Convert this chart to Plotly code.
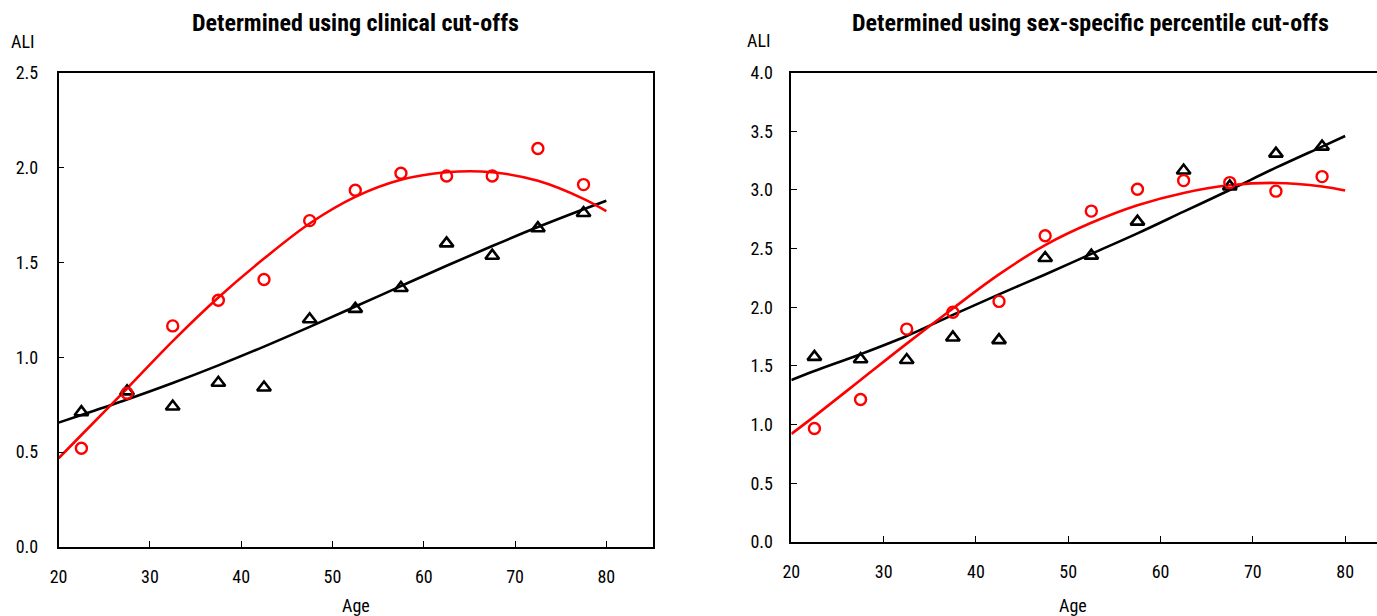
import plotly.graph_objects as go

# ---- data ----
ages = [22.5, 27.5, 32.5, 37.5, 42.5, 47.5, 52.5, 57.5, 62.5, 67.5, 72.5, 77.5]

clin_black = [0.71, 0.82, 0.74, 0.865, 0.84, 1.20, 1.255, 1.365, 1.60, 1.535, 1.68, 1.76]
clin_red = [0.52, 0.81, 1.165, 1.30, 1.41, 1.72, 1.88, 1.97, 1.955, 1.955, 2.10, 1.91]

pct_black = [1.577, 1.557, 1.55, 1.743, 1.72, 2.42, 2.44, 2.73, 3.166, 3.03, 3.31, 3.37]
pct_red = [0.966, 1.214, 1.814, 1.957, 2.05, 2.61, 2.82, 3.006, 3.08, 3.063, 2.99, 3.114]

trend_ages = [20, 22.5, 27.5, 32.5, 37.5, 42.5, 47.5, 52.5, 57.5, 62.5, 67.5, 72.5, 77.5, 80]
clin_black_trend = [0.655, 0.695, 0.777, 0.864, 0.957, 1.056, 1.16, 1.267, 1.375, 1.482, 1.586, 1.686, 1.78, 1.825]
clin_red_trend = [0.467, 0.59, 0.835, 1.085, 1.315, 1.52, 1.705, 1.845, 1.935, 1.975, 1.975, 1.93, 1.835, 1.77]
pct_black_trend = [1.38, 1.457, 1.60, 1.755, 1.935, 2.11, 2.28, 2.455, 2.63, 2.815, 3.0, 3.19, 3.37, 3.46]
pct_red_trend = [0.92, 1.07, 1.38, 1.69, 1.99, 2.28, 2.53, 2.72, 2.87, 2.975, 3.04, 3.06, 3.03, 2.995]

titles = ["Determined using clinical cut-offs", "Determined using sex-specific percentile cut-offs"]
x_ticks = [20, 30, 40, 50, 60, 70, 80]
y_ticks_left = [0.0, 0.5, 1.0, 1.5, 2.0, 2.5]
y_ticks_right = [0.0, 0.5, 1.0, 1.5, 2.0, 2.5, 3.0, 3.5, 4.0]

FONT = "Roboto Condensed, Liberation Sans Narrow, Arial Narrow, sans-serif"
RED = "#ff0000"
BLACK = "#000000"

W, H = 1377, 616
# observed page mapping (figure px -> screenshot px): X = 8.4 + 0.9938*x, Y = 10.35 + 0.9655*y
SX, OX = 0.9938, 8.4
SY, OY = 0.9655, 10.35


def px(T):
    return ((T - OX) / SX) / W


def py(T):
    return 1 - ((T - OY) / SY) / H


fig = go.Figure()


def add_panel(xa, ya, tr_b, tr_r, pb, pr):
    fig.add_trace(go.Scatter(x=trend_ages, y=tr_b, mode="lines",
                             line=dict(color=BLACK, width=2.6, shape="spline", smoothing=1.0),
                             xaxis=xa, yaxis=ya, showlegend=False, hoverinfo="skip"))
    fig.add_trace(go.Scatter(x=trend_ages, y=tr_r, mode="lines",
                             line=dict(color=RED, width=2.6, shape="spline", smoothing=1.0),
                             xaxis=xa, yaxis=ya, showlegend=False, hoverinfo="skip"))
    fig.add_trace(go.Scatter(x=ages, y=pb, mode="markers",
                             marker=dict(symbol="triangle-up-open", size=12, color=BLACK, line=dict(width=2.6)),
                             xaxis=xa, yaxis=ya, showlegend=False))
    fig.add_trace(go.Scatter(x=ages, y=pr, mode="markers",
                             marker=dict(symbol="circle-open", size=11, color=RED, line=dict(width=2.4)),
                             xaxis=xa, yaxis=ya, showlegend=False))


add_panel("x", "y", clin_black_trend, clin_red_trend, clin_black, clin_red)
add_panel("x2", "y2", pct_black_trend, pct_red_trend, pct_black, pct_red)

axis_common = dict(showgrid=False, zeroline=False, showline=True, linecolor=BLACK, linewidth=1.6,
                   ticks="inside", ticklen=6, tickcolor=BLACK, tickwidth=1.3,
                   tickfont=dict(family=FONT, size=18, color=BLACK))

x2_end = 20 + ((OX + SX * W) - 791) / ((1345 - 791) / 60)

fig.update_layout(
    width=W, height=H, margin=dict(l=0, r=0, t=0, b=0),
    paper_bgcolor="white", plot_bgcolor="white",
    xaxis=dict(domain=[px(58), px(653)], range=[20, 85.15], tickvals=x_ticks, mirror=True, anchor="y",
               ticklabelstandoff=13, **axis_common),
    yaxis=dict(domain=[py(546), py(72)], range=[0, 2.5], tickvals=y_ticks_left,
               ticktext=[f"{v:.1f}" for v in y_ticks_left], mirror=True, anchor="x",
               ticklabelstandoff=15, **axis_common),
    xaxis2=dict(domain=[px(791), 1.0], range=[20, x2_end], tickvals=x_ticks, mirror=True, anchor="y2",
                ticklabelstandoff=13, **axis_common),
    yaxis2=dict(domain=[py(541), py(72)], range=[0, 4.0], tickvals=y_ticks_right,
                ticktext=[f"{v:.1f}" for v in y_ticks_right], mirror=False, anchor="x2",
                ticklabelstandoff=13, **axis_common),
)

ann = []
for cx, t in [(355.5, titles[0]), (1090.5, titles[1])]:
    ann.append(dict(text=f"<b>{t}</b>", x=px(cx), y=py(22), xref="paper", yref="paper",
                    xanchor="center", yanchor="middle", showarrow=False,
                    font=dict(family=FONT, size=24, color=BLACK)))
for xl, yl in [(22, 41), (758, 40)]:
    ann.append(dict(text="ALI", x=px(xl), y=py(yl), xref="paper", yref="paper", xanchor="center", yanchor="middle",
                    showarrow=False, font=dict(family=FONT, size=18, color=BLACK)))
for xl in [355.5, 1073]:
    ann.append(dict(text="Age", x=px(xl), y=py(605), xref="paper", yref="paper", xanchor="center",
                    yanchor="middle", showarrow=False, font=dict(family=FONT, size=18, color=BLACK)))
fig.update_layout(annotations=ann)

fig.write_html("out.html")
